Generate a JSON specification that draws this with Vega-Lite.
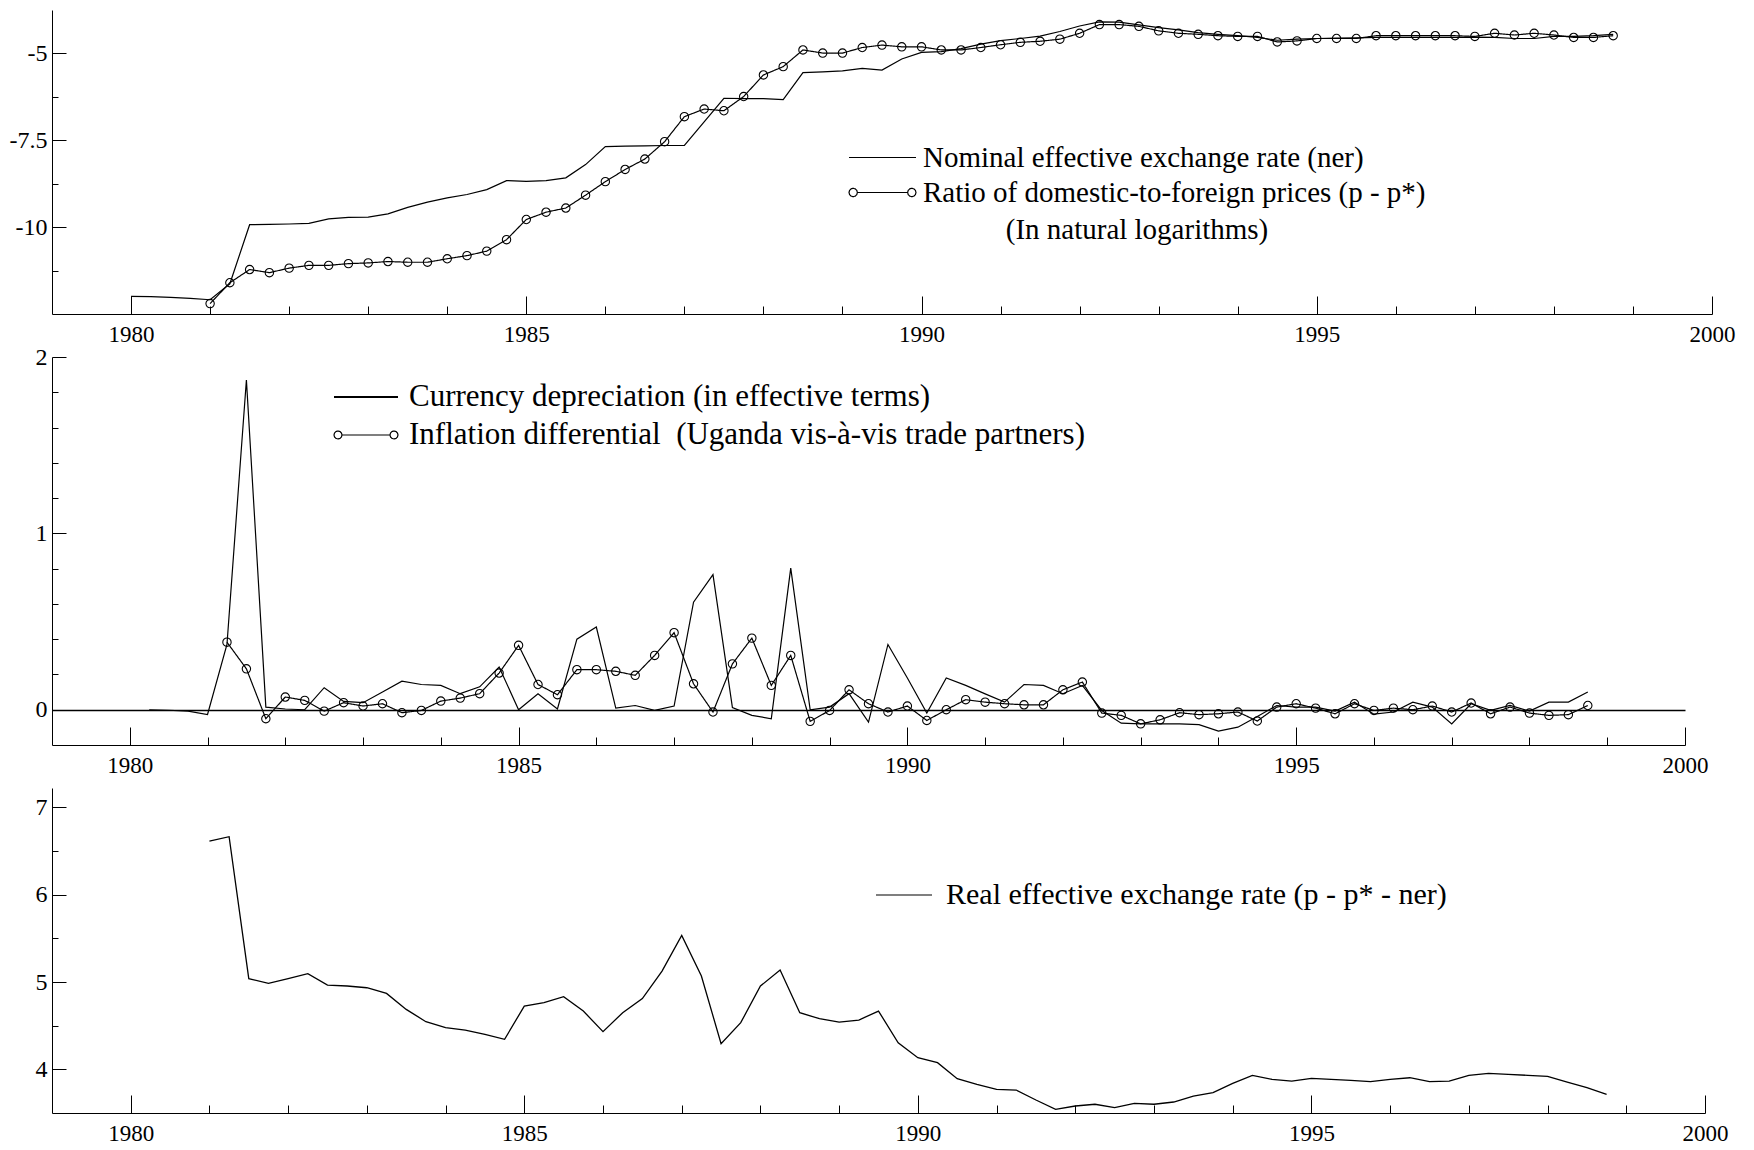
{
  "$schema": "https://vega.github.io/schema/vega-lite/v6.json",
  "background": "white",
  "padding": {"left": 9, "top": 10, "right": 5, "bottom": 5},
  "autosize": {"type": "pad"},
  "bounds": "flush",
  "spacing": 43,
  "resolve": {"scale": {"x": "independent", "y": "independent", "color": "independent", "strokeDash": "independent"}, "legend": {"color": "independent", "strokeDash": "independent"}},
  "config": {
    "view": {"stroke": null},
    "font": "Liberation Serif",
    "axis": {"domainColor": "black", "domainWidth": 1, "tickColor": "black", "tickWidth": 1, "labelColor": "black", "labelFont": "Liberation Serif", "labelFlush": false, "labelOverlap": false, "grid": false},
    "legend": {"labelFont": "Liberation Serif", "labelColor": "black", "labelLimit": 2000, "titleFont": "Liberation Serif", "titleColor": "black", "titleFontWeight": "normal", "titleLimit": 2000, "padding": 0, "rowPadding": 0, "symbolOffset": 0, "symbolFillColor": "transparent", "symbolStrokeColor": "black", "symbolStrokeWidth": 1.2}
  },
  "datasets": {
    "p1": [
      {"t":1980,"ner":-11.99},{"t":1980.25,"ner":-12.0},{"t":1980.5,"ner":-12.02},{"t":1980.75,"ner":-12.05},
      {"t":1981,"ner":-12.09,"ratio":-12.2},{"t":1981.25,"ner":-11.63,"ratio":-11.6},{"t":1981.5,"ner":-9.93,"ratio":-11.22},{"t":1981.75,"ner":-9.92,"ratio":-11.31},
      {"t":1982,"ner":-9.91,"ratio":-11.18},{"t":1982.25,"ner":-9.89,"ratio":-11.1},{"t":1982.5,"ner":-9.76,"ratio":-11.1},{"t":1982.75,"ner":-9.72,"ratio":-11.05},
      {"t":1983,"ner":-9.71,"ratio":-11.03},{"t":1983.25,"ner":-9.62,"ratio":-10.99},{"t":1983.5,"ner":-9.43,"ratio":-11.01},{"t":1983.75,"ner":-9.28,"ratio":-11.01},
      {"t":1984,"ner":-9.16,"ratio":-10.91},{"t":1984.25,"ner":-9.06,"ratio":-10.82},{"t":1984.5,"ner":-8.92,"ratio":-10.69},{"t":1984.75,"ner":-8.66,"ratio":-10.36},
      {"t":1985,"ner":-8.68,"ratio":-9.78},{"t":1985.25,"ner":-8.66,"ratio":-9.57},{"t":1985.5,"ner":-8.58,"ratio":-9.45},{"t":1985.75,"ner":-8.2,"ratio":-9.08},
      {"t":1986,"ner":-7.68,"ratio":-8.69},{"t":1986.25,"ner":-7.67,"ratio":-8.34},{"t":1986.5,"ner":-7.66,"ratio":-8.04},{"t":1986.75,"ner":-7.65,"ratio":-7.54},
      {"t":1987,"ner":-7.65,"ratio":-6.82},{"t":1987.25,"ner":-6.97,"ratio":-6.6},{"t":1987.5,"ner":-6.29,"ratio":-6.65},{"t":1987.75,"ner":-6.3,"ratio":-6.24},
      {"t":1988,"ner":-6.3,"ratio":-5.62},{"t":1988.25,"ner":-6.33,"ratio":-5.38},{"t":1988.5,"ner":-5.55,"ratio":-4.9},{"t":1988.75,"ner":-5.53,"ratio":-4.99},
      {"t":1989,"ner":-5.5,"ratio":-4.99},{"t":1989.25,"ner":-5.43,"ratio":-4.83},{"t":1989.5,"ner":-5.48,"ratio":-4.76},{"t":1989.75,"ner":-5.16,"ratio":-4.81},
      {"t":1990,"ner":-4.97,"ratio":-4.81},{"t":1990.25,"ner":-4.95,"ratio":-4.9},{"t":1990.5,"ner":-4.86,"ratio":-4.9},{"t":1990.75,"ner":-4.73,"ratio":-4.83},
      {"t":1991,"ner":-4.63,"ratio":-4.75},{"t":1991.25,"ner":-4.57,"ratio":-4.68},{"t":1991.5,"ner":-4.5,"ratio":-4.65},{"t":1991.75,"ner":-4.37,"ratio":-4.59},
      {"t":1992,"ner":-4.21,"ratio":-4.42},{"t":1992.25,"ner":-4.09,"ratio":-4.17},{"t":1992.5,"ner":-4.1,"ratio":-4.17},{"t":1992.75,"ner":-4.18,"ratio":-4.22},
      {"t":1993,"ner":-4.26,"ratio":-4.35},{"t":1993.25,"ner":-4.32,"ratio":-4.42},{"t":1993.5,"ner":-4.4,"ratio":-4.45},{"t":1993.75,"ner":-4.45,"ratio":-4.49},
      {"t":1994,"ner":-4.49,"ratio":-4.51},{"t":1994.25,"ner":-4.54,"ratio":-4.51},{"t":1994.5,"ner":-4.62,"ratio":-4.67},{"t":1994.75,"ner":-4.59,"ratio":-4.64},
      {"t":1995,"ner":-4.57,"ratio":-4.57},{"t":1995.25,"ner":-4.56,"ratio":-4.57},{"t":1995.5,"ner":-4.55,"ratio":-4.57},{"t":1995.75,"ner":-4.54,"ratio":-4.49},
      {"t":1996,"ner":-4.54,"ratio":-4.49},{"t":1996.25,"ner":-4.54,"ratio":-4.49},{"t":1996.5,"ner":-4.54,"ratio":-4.49},{"t":1996.75,"ner":-4.54,"ratio":-4.49},
      {"t":1997,"ner":-4.53,"ratio":-4.51},{"t":1997.25,"ner":-4.54,"ratio":-4.42},{"t":1997.5,"ner":-4.57,"ratio":-4.47},{"t":1997.75,"ner":-4.57,"ratio":-4.42},
      {"t":1998,"ner":-4.51,"ratio":-4.47},{"t":1998.25,"ner":-4.51,"ratio":-4.54},{"t":1998.5,"ner":-4.49,"ratio":-4.54},{"t":1998.75,"ner":-4.45,"ratio":-4.49}
    ],
    "p2": [
      {"t":1980.25,"dep":0.0},{"t":1980.5,"dep":-0.003},{"t":1980.75,"dep":-0.008},{"t":1981,"dep":-0.027},
      {"t":1981.25,"dep":0.37,"infl":0.383},{"t":1981.5,"dep":1.87,"infl":0.232},{"t":1981.75,"dep":0.015,"infl":-0.051},
      {"t":1982,"dep":0.004,"infl":0.072},{"t":1982.25,"dep":0.0,"infl":0.053},{"t":1982.5,"dep":0.125,"infl":-0.008},{"t":1982.75,"dep":0.047,"infl":0.04},
      {"t":1983,"dep":0.04,"infl":0.021},{"t":1983.25,"dep":0.1,"infl":0.034},{"t":1983.5,"dep":0.162,"infl":-0.017},{"t":1983.75,"dep":0.143,"infl":-0.004},
      {"t":1984,"dep":0.138,"infl":0.049},{"t":1984.25,"dep":0.091,"infl":0.066},{"t":1984.5,"dep":0.13,"infl":0.091},{"t":1984.75,"dep":0.242,"infl":0.208},
      {"t":1985,"dep":0.0,"infl":0.365},{"t":1985.25,"dep":0.091,"infl":0.143},{"t":1985.5,"dep":0.004,"infl":0.085},{"t":1985.75,"dep":0.4,"infl":0.227},
      {"t":1986,"dep":0.469,"infl":0.227},{"t":1986.25,"dep":0.009,"infl":0.218},{"t":1986.5,"dep":0.024,"infl":0.195},{"t":1986.75,"dep":-0.004,"infl":0.308},
      {"t":1987,"dep":0.021,"infl":0.437},{"t":1987.25,"dep":0.61,"infl":0.147},{"t":1987.5,"dep":0.766,"infl":-0.013},{"t":1987.75,"dep":0.012,"infl":0.26},
      {"t":1988,"dep":-0.032,"infl":0.406},{"t":1988.25,"dep":-0.051,"infl":0.138},{"t":1988.5,"dep":0.803,"infl":0.308},{"t":1988.75,"dep":0.0,"infl":-0.066},
      {"t":1989,"dep":0.015,"infl":-0.004},{"t":1989.25,"dep":0.091,"infl":0.113},{"t":1989.5,"dep":-0.07,"infl":0.034},{"t":1989.75,"dep":0.37,"infl":-0.013},
      {"t":1990,"dep":0.18,"infl":0.021},{"t":1990.25,"dep":-0.019,"infl":-0.061},{"t":1990.5,"dep":0.18,"infl":0.0},{"t":1990.75,"dep":0.138,"infl":0.057},
      {"t":1991,"dep":0.09,"infl":0.043},{"t":1991.25,"dep":0.043,"infl":0.034},{"t":1991.5,"dep":0.143,"infl":0.028},{"t":1991.75,"dep":0.138,"infl":0.028},
      {"t":1992,"dep":0.091,"infl":0.113},{"t":1992.25,"dep":0.138,"infl":0.157},{"t":1992.5,"dep":-0.004,"infl":-0.019},{"t":1992.75,"dep":-0.076,"infl":-0.032},
      {"t":1993,"dep":-0.08,"infl":-0.08},{"t":1993.25,"dep":-0.08,"infl":-0.057},{"t":1993.5,"dep":-0.08,"infl":-0.017},{"t":1993.75,"dep":-0.085,"infl":-0.028},
      {"t":1994,"dep":-0.121,"infl":-0.023},{"t":1994.25,"dep":-0.099,"infl":-0.013},{"t":1994.5,"dep":-0.038,"infl":-0.064},{"t":1994.75,"dep":0.024,"infl":0.015},
      {"t":1995,"dep":0.015,"infl":0.034},{"t":1995.25,"dep":0.015,"infl":0.009},{"t":1995.5,"dep":-0.008,"infl":-0.023},{"t":1995.75,"dep":0.043,"infl":0.034},
      {"t":1996,"dep":-0.025,"infl":-0.004},{"t":1996.25,"dep":-0.013,"infl":0.009},{"t":1996.5,"dep":0.043,"infl":0.0},{"t":1996.75,"dep":0.015,"infl":0.021},
      {"t":1997,"dep":-0.08,"infl":-0.013},{"t":1997.25,"dep":0.034,"infl":0.038},{"t":1997.5,"dep":-0.004,"infl":-0.023},{"t":1997.75,"dep":0.024,"infl":0.015},
      {"t":1998,"dep":-0.008,"infl":-0.019},{"t":1998.25,"dep":0.043,"infl":-0.032},{"t":1998.5,"dep":0.043,"infl":-0.028},{"t":1998.75,"dep":0.1,"infl":0.024}
    ],
    "p3": [
      {"t":1981,"reer":6.615},{"t":1981.25,"reer":6.665},{"t":1981.5,"reer":5.039},{"t":1981.75,"reer":4.985},
      {"t":1982,"reer":5.04},{"t":1982.25,"reer":5.096},{"t":1982.5,"reer":4.966},{"t":1982.75,"reer":4.955},
      {"t":1983,"reer":4.935},{"t":1983.25,"reer":4.87},{"t":1983.5,"reer":4.687},{"t":1983.75,"reer":4.546},
      {"t":1984,"reer":4.477},{"t":1984.25,"reer":4.45},{"t":1984.5,"reer":4.4},{"t":1984.75,"reer":4.344},
      {"t":1985,"reer":4.725},{"t":1985.25,"reer":4.764},{"t":1985.5,"reer":4.833},{"t":1985.75,"reer":4.668},
      {"t":1986,"reer":4.432},{"t":1986.25,"reer":4.649},{"t":1986.5,"reer":4.81},{"t":1986.75,"reer":5.126},
      {"t":1987,"reer":5.535},{"t":1987.25,"reer":5.069},{"t":1987.5,"reer":4.294},{"t":1987.75,"reer":4.535},
      {"t":1988,"reer":4.955},{"t":1988.25,"reer":5.137},{"t":1988.5,"reer":4.649},{"t":1988.75,"reer":4.58},
      {"t":1989,"reer":4.542},{"t":1989.25,"reer":4.565},{"t":1989.5,"reer":4.668},{"t":1989.75,"reer":4.305},
      {"t":1990,"reer":4.134},{"t":1990.25,"reer":4.077},{"t":1990.5,"reer":3.893},{"t":1990.75,"reer":3.828},
      {"t":1991,"reer":3.771},{"t":1991.25,"reer":3.763},{"t":1991.5,"reer":3.649},{"t":1991.75,"reer":3.542},
      {"t":1992,"reer":3.58},{"t":1992.25,"reer":3.6},{"t":1992.5,"reer":3.561},{"t":1992.75,"reer":3.611},
      {"t":1993,"reer":3.6},{"t":1993.25,"reer":3.626},{"t":1993.5,"reer":3.694},{"t":1993.75,"reer":3.733},
      {"t":1994,"reer":3.84},{"t":1994.25,"reer":3.931},{"t":1994.5,"reer":3.885},{"t":1994.75,"reer":3.866},
      {"t":1995,"reer":3.897},{"t":1995.25,"reer":3.885},{"t":1995.5,"reer":3.874},{"t":1995.75,"reer":3.859},
      {"t":1996,"reer":3.885},{"t":1996.25,"reer":3.904},{"t":1996.5,"reer":3.859},{"t":1996.75,"reer":3.866},
      {"t":1997,"reer":3.931},{"t":1997.25,"reer":3.954},{"t":1997.5,"reer":3.943},{"t":1997.75,"reer":3.931},
      {"t":1998,"reer":3.92},{"t":1998.25,"reer":3.855},{"t":1998.5,"reer":3.79},{"t":1998.75,"reer":3.714}
    ]
  },
  "vconcat": [
    {
      "width": 1660, "height": 304,
      "data": {"name": "p1"},
      "transform": [{"fold": ["ner", "ratio"], "as": ["s", "v"]}, {"filter": "isValid(datum.v)"}],
      "encoding": {
        "x": {"field": "t", "type": "quantitative", "scale": {"domain": [1979, 2000], "nice": false, "zero": false},
          "axis": {"title": null, "values": [1980,1981,1982,1983,1984,1985,1986,1987,1988,1989,1990,1991,1992,1993,1994,1995,1996,1997,1998,1999,2000], "format": "d",
            "labelExpr": "datum.value % 5 == 0 ? datum.label : ''", "labelFontSize": 23,
            "tickSize": {"condition": {"test": "datum.value % 5 == 0", "value": -18}, "value": -8},
            "labelPadding": {"condition": {"test": "datum.value % 5 == 0", "value": 27}, "value": 17}}},
        "y": {"field": "v", "type": "quantitative", "scale": {"domain": [-12.5, -3.75], "nice": false, "zero": false},
          "axis": {"title": null, "values": [-11.25, -10, -8.75, -7.5, -6.25, -5],
            "labelExpr": "abs(datum.value % 2.5) < 0.001 ? (datum.value < 0 ? '-' : '') + format(abs(datum.value), '.1~f') : ''", "labelFontSize": 24,
            "tickSize": {"condition": {"test": "abs(datum.value % 2.5) < 0.001", "value": -14}, "value": -6},
            "labelPadding": {"condition": {"test": "abs(datum.value % 2.5) < 0.001", "value": 19}, "value": 11}}}
      },
      "layer": [
        {
          "transform": [{"filter": "datum.s == 'ner'"}],
          "mark": {"type": "line", "color": "black", "strokeWidth": 1.2},
          "encoding": {
            "color": {"field": "s", "type": "nominal", "scale": {"domain": ["ner"], "range": ["black"]},
              "legend": {"orient": "none", "legendX": 796, "legendY": 130, "direction": "vertical", "title": null,
                "labelFontSize": 29, "labelOffset": 6, "symbolSize": 4489, "clipHeight": 35, "symbolType": "M-1,0L1,0",
                "labelExpr": "'Nominal effective exchange rate (ner)'"}}
          }
        },
        {
          "transform": [{"filter": "datum.s == 'ratio'"}],
          "mark": {"type": "line", "color": "black", "strokeWidth": 1.2},
          "encoding": {
            "strokeDash": {"field": "s", "type": "nominal", "scale": {"domain": ["ratio"], "range": [[1, 0]]},
              "legend": {"orient": "none", "legendX": 796, "legendY": 165, "direction": "vertical",
                "title": "(In natural logarithms)", "titleOrient": "bottom", "titleAnchor": "middle", "titleFontSize": 29, "titlePadding": 6,
                "labelFontSize": 29, "labelOffset": 6, "symbolSize": 4489, "clipHeight": 35,
                "symbolType": "M-0.75,0L0.75,0M-0.75,0L-0.767,0.0625L-0.8125,0.108L-0.875,0.125L-0.9375,0.108L-0.983,0.0625L-1,0L-0.983,-0.0625L-0.9375,-0.108L-0.875,-0.125L-0.8125,-0.108L-0.767,-0.0625ZM1,0L0.983,0.0625L0.9375,0.108L0.875,0.125L0.8125,0.108L0.767,0.0625L0.75,0L0.767,-0.0625L0.8125,-0.108L0.875,-0.125L0.9375,-0.108L0.983,-0.0625Z",
                "labelExpr": "'Ratio of domestic-to-foreign prices (p - p*)'"}}
          }
        },
        {
          "transform": [{"filter": "datum.s == 'ratio'"}],
          "mark": {"type": "point", "shape": "circle", "filled": false, "color": "black", "size": 70, "strokeWidth": 1.1, "opacity": 1}
        }
      ]
    },
    {
      "width": 1633, "height": 388,
      "data": {"name": "p2"},
      "transform": [{"fold": ["dep", "infl"], "as": ["s", "v"]}, {"filter": "isValid(datum.v)"}],
      "encoding": {
        "x": {"field": "t", "type": "quantitative", "scale": {"domain": [1979, 2000], "nice": false, "zero": false},
          "axis": {"title": null, "values": [1980,1981,1982,1983,1984,1985,1986,1987,1988,1989,1990,1991,1992,1993,1994,1995,1996,1997,1998,1999,2000], "format": "d",
            "labelExpr": "datum.value % 5 == 0 ? datum.label : ''", "labelFontSize": 23,
            "tickSize": {"condition": {"test": "datum.value % 5 == 0", "value": -18}, "value": -8},
            "labelPadding": {"condition": {"test": "datum.value % 5 == 0", "value": 27}, "value": 17}}},
        "y": {"field": "v", "type": "quantitative", "scale": {"domain": [-0.2, 2], "nice": false, "zero": false},
          "axis": {"title": null, "values": [0, 0.2, 0.4, 0.6, 0.8, 1, 1.2, 1.4, 1.6, 1.8, 2],
            "labelExpr": "abs(datum.value - round(datum.value)) < 0.001 ? format(datum.value, 'd') : ''", "labelFontSize": 24,
            "tickSize": {"condition": {"test": "abs(datum.value - round(datum.value)) < 0.001", "value": -14}, "value": -6},
            "labelPadding": {"condition": {"test": "abs(datum.value - round(datum.value)) < 0.001", "value": 19}, "value": 11},
            "grid": true, "gridColor": "black", "gridWidth": 1.6,
            "gridOpacity": {"condition": {"test": "datum.value == 0", "value": 1}, "value": 0}}}
      },
      "layer": [
        {
          "transform": [{"filter": "datum.s == 'dep'"}],
          "mark": {"type": "line", "color": "black", "strokeWidth": 1.2},
          "encoding": {
            "color": {"field": "s", "type": "nominal", "scale": {"domain": ["dep"], "range": ["black"]},
              "legend": {"orient": "none", "legendX": 281, "legendY": 21, "direction": "vertical", "title": null,
                "labelFontSize": 31, "labelOffset": 10, "symbolSize": 4096, "clipHeight": 38, "symbolStrokeWidth": 1.8, "symbolType": "M-1,0L1,0",
                "labelExpr": "'Currency depreciation (in effective terms)'"}}
          }
        },
        {
          "transform": [{"filter": "datum.s == 'infl'"}],
          "mark": {"type": "line", "color": "black", "strokeWidth": 1.2},
          "encoding": {
            "strokeDash": {"field": "s", "type": "nominal", "scale": {"domain": ["infl"], "range": [[1, 0]]},
              "legend": {"orient": "none", "legendX": 281, "legendY": 59, "direction": "vertical", "title": null,
                "labelFontSize": 31, "labelOffset": 10, "symbolSize": 4096, "clipHeight": 38,
                "symbolType": "M-0.75,0L0.75,0M-0.75,0L-0.767,0.0625L-0.8125,0.108L-0.875,0.125L-0.9375,0.108L-0.983,0.0625L-1,0L-0.983,-0.0625L-0.9375,-0.108L-0.875,-0.125L-0.8125,-0.108L-0.767,-0.0625ZM1,0L0.983,0.0625L0.9375,0.108L0.875,0.125L0.8125,0.108L0.767,0.0625L0.75,0L0.767,-0.0625L0.8125,-0.108L0.875,-0.125L0.9375,-0.108L0.983,-0.0625Z",
                "labelExpr": "'Inflation differential\u00a0 (Uganda vis-à-vis trade partners)'"}}
          }
        },
        {
          "transform": [{"filter": "datum.s == 'infl'"}],
          "mark": {"type": "point", "shape": "circle", "filled": false, "color": "black", "size": 70, "strokeWidth": 1.1, "opacity": 1}
        }
      ]
    },
    {
      "width": 1653, "height": 325,
      "data": {"name": "p3"},
      "transform": [{"fold": ["reer"], "as": ["s", "v"]}],
      "mark": {"type": "line", "color": "black", "strokeWidth": 1.3},
      "encoding": {
        "x": {"field": "t", "type": "quantitative", "scale": {"domain": [1979, 2000], "nice": false, "zero": false},
          "axis": {"title": null, "values": [1980,1981,1982,1983,1984,1985,1986,1987,1988,1989,1990,1991,1992,1993,1994,1995,1996,1997,1998,1999,2000], "format": "d",
            "labelExpr": "datum.value % 5 == 0 ? datum.label : ''", "labelFontSize": 23,
            "tickSize": {"condition": {"test": "datum.value % 5 == 0", "value": -18}, "value": -8},
            "labelPadding": {"condition": {"test": "datum.value % 5 == 0", "value": 27}, "value": 17}}},
        "y": {"field": "v", "type": "quantitative", "scale": {"domain": [3.5, 7.223], "nice": false, "zero": false},
          "axis": {"title": null, "values": [4, 4.5, 5, 5.5, 6, 6.5, 7],
            "labelExpr": "abs(datum.value - round(datum.value)) < 0.001 ? format(datum.value, 'd') : ''", "labelFontSize": 24,
            "tickSize": {"condition": {"test": "abs(datum.value - round(datum.value)) < 0.001", "value": -14}, "value": -6},
            "labelPadding": {"condition": {"test": "abs(datum.value - round(datum.value)) < 0.001", "value": 19}, "value": 11}}},
        "color": {"field": "s", "type": "nominal", "scale": {"domain": ["reer"], "range": ["black"]},
          "legend": {"orient": "none", "legendX": 823, "legendY": 90, "direction": "vertical", "title": null,
            "labelFontSize": 30, "labelOffset": 13, "symbolSize": 3136, "clipHeight": 34, "symbolType": "M-1,0L1,0",
            "labelExpr": "'Real effective exchange rate (p - p* - ner)'"}}
      }
    }
  ]
}
